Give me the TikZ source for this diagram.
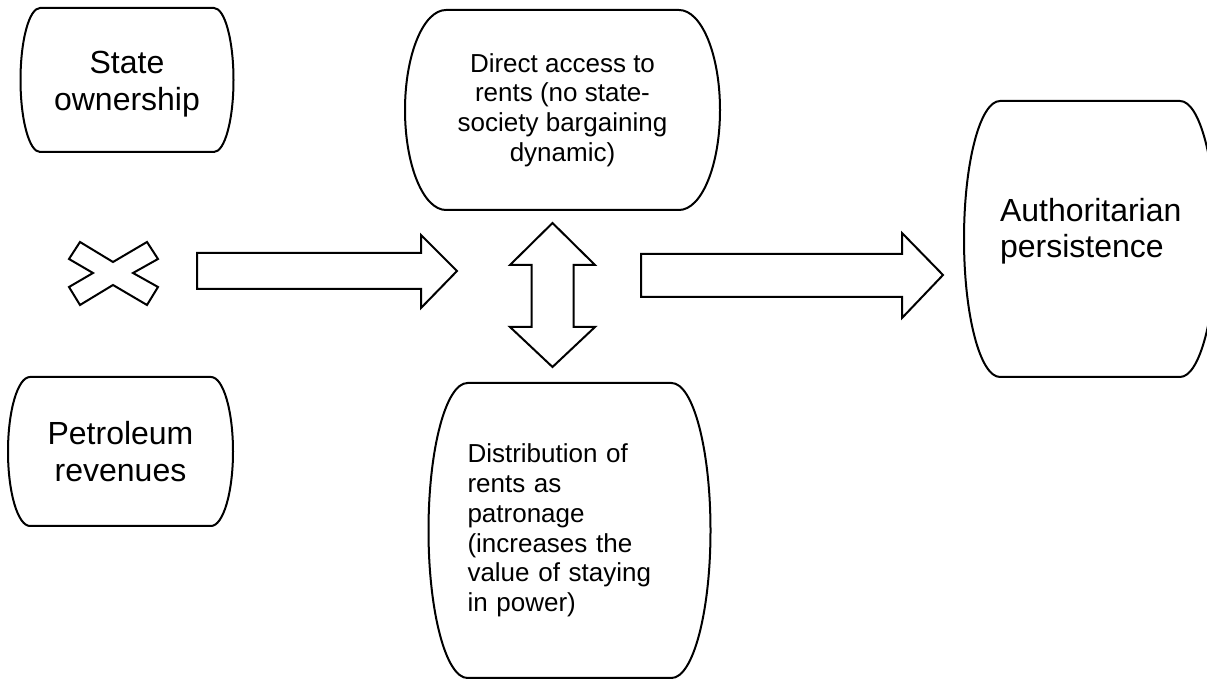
\documentclass[tikz,border=0pt]{standalone}
\usepackage{fontspec}
\setmainfont{Liberation Sans}
\usepackage{tikz}

% outline with flat top/bottom and bulging sides
\newcommand{\barrel}[3]{%
  \draw (#1.north west) -- (#1.north east)
    arc[start angle=90, end angle=-90, x radius=#2pt, y radius=#3pt]
    -- (#1.south west)
    arc[start angle=270, end angle=90, x radius=#2pt, y radius=#3pt] -- cycle;}

\begin{document}
\begin{tikzpicture}[
            x=1pt, y=1pt, line width=2pt, line join=miter,
            every node/.style={outer sep=0pt},
            big/.style={font=\fontsize{32}{36.5}\selectfont, inner sep=0pt},
            mid/.style={font=\fontsize{26}{29.7}\selectfont, inner sep=0pt},
            block/.style={draw, fill=white}
        ]
            \path[use as bounding box, clip] (0,0) rectangle (1207,679);

            % left column
            \node[big, align=center, minimum width=174, minimum height=144] (own) at (127,599)
                {\raisebox{-4pt}[\height][\depth]{State}\\\raisebox{-4pt}[\height][\depth]{ownership}};
            \node[big, align=center, minimum width=181, minimum height=149] (oil) at (120.5,227.5) {Petroleum\\revenues};
            \barrel{own}{19.5}{72}
            \barrel{oil}{22}{74.5}
            \draw[block] (80,437) -- (113,417) -- (147,437) -- (158,420) -- (133,406) -- (158,392)
                -- (147,374) -- (113,394) -- (80,374) -- (69,392) -- (93,406) -- (69,420) -- cycle;

            % middle column
            \node[mid, align=center, minimum width=233, minimum height=200] (access) at (562.5,569)
                {Direct access to\\rents (no state-\\society bargaining\\dynamic)};
            \node[mid, align=left, text width=204, minimum height=295] (patron) at (569.5,148.5)
                {Distribution of\\rents as\\patronage\\(increases the\\value of staying\\in power)};
            \barrel{access}{41}{100}
            \barrel{patron}{39}{147.5}

            % right column
            \node[inner sep=0pt, minimum width=180, minimum height=276,
                  label={[big, align=left, text width=180, yshift=8]center:Authoritarian\\persistence}] (auth) at (1090,440) {};
            \barrel{auth}{36}{138}

            % block arrows
            \draw[block] (197,426) -- (421,426) -- (421,444) -- (457,408) -- (421,371) -- (421,390) -- (197,390) -- cycle;
            \draw[block] (552.5,456) -- (595,414) -- (573.5,414) -- (573.5,352) -- (595,352) -- (552.5,312)
                -- (510,352) -- (531.5,352) -- (531.5,414) -- (510,414) -- cycle;
            \draw[block] (641,425) -- (902,425) -- (902,446) -- (943,404) -- (902,361) -- (902,382) -- (641,382) -- cycle;
        \end{tikzpicture}
\end{document}
